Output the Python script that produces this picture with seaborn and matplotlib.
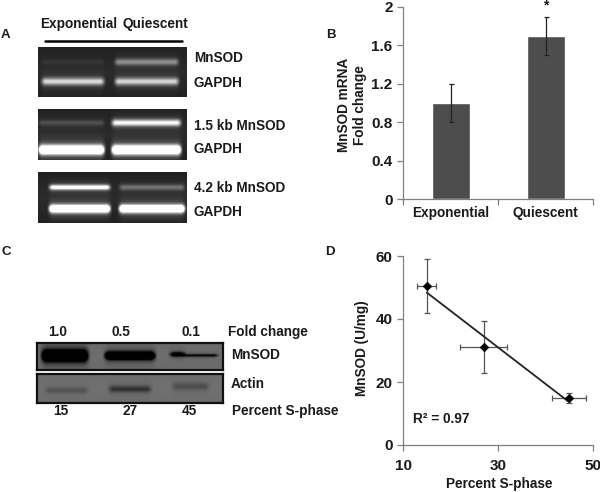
#!/usr/bin/env python3

import matplotlib
matplotlib.use("Agg")
import matplotlib.pyplot as plt
import seaborn as sns
import pandas as pd
import numpy as np

# panel B
bar_labels = ["Exponential", "Quiescent"]
bar_values = [1.0, 1.7]
bar_errors = [0.2, 0.2]
bar_ticks = [0, 0.4, 0.8, 1.2, 1.6, 2]
bar_ticklabels = ["0", "0.4", "0.8", "1.2", "1.6", "2"]

# panel D
sphase = [15, 27, 45]
mnsod = [50.5, 31, 15]
sphase_err = [2.0, 4.9, 3.6]
mnsod_err = [8.6, 8.3, 1.6]
d_xticks = [10, 30, 50]
d_yticks = [0, 20, 40, 60]

# gel bands: lane left, lane right, row, thickness, brightness (fractions of the gel)
gel_a1 = [(0.03, 0.44, 0.30, 0.035, 0.05), (0.52, 0.94, 0.30, 0.045, 0.36),
          (0.03, 0.44, 0.69, 0.05, 0.62), (0.52, 0.94, 0.69, 0.05, 0.60)]
gel_a2 = [(0.01, 0.44, 0.27, 0.04, 0.14), (0.50, 0.955, 0.27, 0.045, 0.75),
          (0.01, 0.44, 0.80, 0.06, 1.5), (0.50, 0.955, 0.80, 0.06, 1.5)]
gel_a3 = [(0.08, 0.48, 0.30, 0.035, 0.85), (0.55, 0.98, 0.30, 0.04, 0.26),
          (0.08, 0.48, 0.72, 0.05, 1.5), (0.55, 0.98, 0.72, 0.05, 1.5)]
blot_mnsod = [(0.03, 0.27, 0.47, 0.15, -0.85), (0.37, 0.63, 0.47, 0.10, -0.85),
              (0.72, 0.79, 0.42, 0.06, -0.55), (0.79, 0.97, 0.46, 0.04, -0.35)]
blot_actin = [(0.05, 0.27, 0.56, 0.08, -0.10), (0.39, 0.61, 0.52, 0.08, -0.22),
              (0.73, 0.92, 0.43, 0.09, -0.12)]

W, H = 600, 492
TEXT = "#1a1a1a"

sns.set_theme(style="white")
plt.rcParams["font.family"] = ["Liberation Sans", "DejaVu Sans"]
plt.rcParams["font.weight"] = "bold"
plt.rcParams["font.size"] = 9.8


def px_axes(fig, left, top, right, bottom):
    return fig.add_axes([left / W, 1 - bottom / H, (right - left) / W, (bottom - top) / H])


def label(fig, x, y, s, ha="left", size=9.8):
    fig.text(x / W, 1 - y / H, s, ha=ha, va="center", color=TEXT, fontsize=size, fontweight="bold")


def band_image(bands, width, height, base, edge=0.0):
    xs = (np.arange(width) + 0.5) / width
    ys = (np.arange(height) + 0.5) / height
    img = np.full((height, width), base, dtype=float)
    # darker towards the rim of the gel
    img -= edge * np.abs(ys - 0.5)[:, None]
    for x0, x1, row, thick, level in bands:
        soft = 0.045
        across = np.clip((xs - x0) / soft + 0.5, 0, 1) * np.clip((x1 - xs) / soft + 0.5, 0, 1)
        across = across * across * (3 - 2 * across)
        down = np.exp(-0.5 * ((ys - row) / thick) ** 2)
        # faint halo round each band
        halo = np.exp(-0.5 * ((ys - row) / (thick * 2.4)) ** 2)
        img += level * np.outer(down + 0.14 * halo, across)
    return np.clip(img, 0, 1)


def draw_gel(fig, left, top, right, bottom, bands, base=0.17, edge=0.08, frame=None):
    ax = px_axes(fig, left, top, right, bottom)
    img = band_image(bands, right - left, bottom - top, base, edge)
    sns.heatmap(img, ax=ax, cbar=False, cmap="gray", vmin=0, vmax=1,
                xticklabels=False, yticklabels=False)
    if frame:
        for sp in ax.spines.values():
            sp.set_visible(True)
            sp.set_color(frame)
            sp.set_linewidth(1.6)
    return ax


def style_axis(ax):
    sns.despine(ax=ax)
    for side in ("left", "bottom"):
        ax.spines[side].set_color("#808080")
        ax.spines[side].set_linewidth(0.9)
    ax.tick_params(axis="both", direction="out", length=4, width=0.9, color="#808080",
                   left=True, bottom=True, labelcolor=TEXT, labelsize=11)


fig = plt.figure(figsize=(W / 100, H / 100), dpi=100, facecolor="white")

# panel A
label(fig, 40, 24, "Exponential")
label(fig, 123, 24, "Quiescent")
fig.add_artist(plt.Line2D([45 / W, 182 / W], [1 - 41 / H, 1 - 41 / H], color="black", lw=1.8))
draw_gel(fig, 38, 47, 187, 97, gel_a1)
draw_gel(fig, 38, 109, 187, 160, gel_a2)
draw_gel(fig, 38, 172, 187, 223, gel_a3)
for y, s in [(58, "MnSOD"), (83, "GAPDH"), (126, "1.5 kb MnSOD"), (149, "GAPDH"),
             (188, "4.2 kb MnSOD"), (212, "GAPDH")]:
    label(fig, 194, y, s)
label(fig, 1, 35, "A", size=9.5)

# panel B
ax_b = px_axes(fig, 403, 7, 593, 199)
df_b = pd.DataFrame({"state": bar_labels, "fold": bar_values})
sns.barplot(data=df_b, x="state", y="fold", color="#4d4d4d", saturation=1, width=0.4, ax=ax_b)
ax_b.errorbar(range(len(bar_values)), bar_values, yerr=bar_errors, fmt="none",
              ecolor="#222222", elinewidth=0.9, capsize=1.8, capthick=0.9)
ax_b.set_xlim(-0.5, 1.5)
ax_b.set_ylim(0, 2)
ax_b.set_yticks(bar_ticks, bar_ticklabels)
ax_b.set_xticks([-0.5, 0.5, 1.5], ["", "", ""])
ax_b.set_xlabel("")
ax_b.set_ylabel("")
style_axis(ax_b)
for i, s in enumerate(bar_labels):
    ax_b.annotate(s, (i, 0), xytext=(0, -14), textcoords="offset pixels", ha="center",
                  va="center", color=TEXT, fontsize=9.8, annotation_clip=False)
ax_b.text(1, 2.015, "*", ha="center", va="center", color=TEXT, fontsize=10, clip_on=False)
fig.text(352 / W, 1 - 105 / H, "MnSOD mRNA\nFold change", rotation=90, ha="center", va="center",
         ma="center", color=TEXT, fontsize=9.8, linespacing=1.1)
label(fig, 326, 35, "B", size=9.5)

# panel C
label(fig, 58, 332, "1.0", ha="center")
label(fig, 121, 332, "0.5", ha="center")
label(fig, 191, 332, "0.1", ha="center")
label(fig, 228, 332, "Fold change")
draw_gel(fig, 37, 343, 223, 370, blot_mnsod, base=0.43, edge=0.03, frame="#111111")
draw_gel(fig, 37, 374, 223, 403, blot_actin, base=0.44, edge=0.03, frame="#111111")
label(fig, 231, 355, "MnSOD")
label(fig, 231, 384, "Actin")
label(fig, 61, 411, "15", ha="center")
label(fig, 130, 411, "27", ha="center")
label(fig, 189, 411, "45", ha="center")
label(fig, 232, 411, "Percent S-phase")
label(fig, 1, 252, "C", size=9.5)

# panel D
ax_d = px_axes(fig, 403, 256, 593, 445)
df_d = pd.DataFrame({"sphase": sphase, "mnsod": mnsod})
ax_d.errorbar(sphase, mnsod, xerr=sphase_err, yerr=mnsod_err, fmt="none", ecolor="#555555",
              elinewidth=0.9, capsize=2, capthick=0.9)
sns.regplot(data=df_d, x="sphase", y="mnsod", scatter=False, ci=None, ax=ax_d,
            line_kws={"color": "#222222", "lw": 1.3})
sns.scatterplot(data=df_d, x="sphase", y="mnsod", marker="D", s=20, color="black",
                edgecolor="black", zorder=5, ax=ax_d)
ax_d.set_xlim(10, 50)
ax_d.set_ylim(0, 60)
ax_d.set_xticks(d_xticks)
ax_d.set_yticks(d_yticks)
ax_d.set_xlabel("")
ax_d.set_ylabel("")
style_axis(ax_d)
ax_d.tick_params(axis="x", pad=6)
ax_d.text(12.2, 8.4, "R² = 0.97", ha="left", va="center", color=TEXT, fontsize=9.8)
fig.text(362 / W, 1 - 348 / H, "MnSOD (U/mg)", rotation=90, ha="center", va="center",
         color=TEXT, fontsize=9.8)
label(fig, 499, 484, "Percent S-phase", ha="center")
label(fig, 325, 252, "D", size=9.5)

fig.savefig("out.png", dpi=100, facecolor="white")
